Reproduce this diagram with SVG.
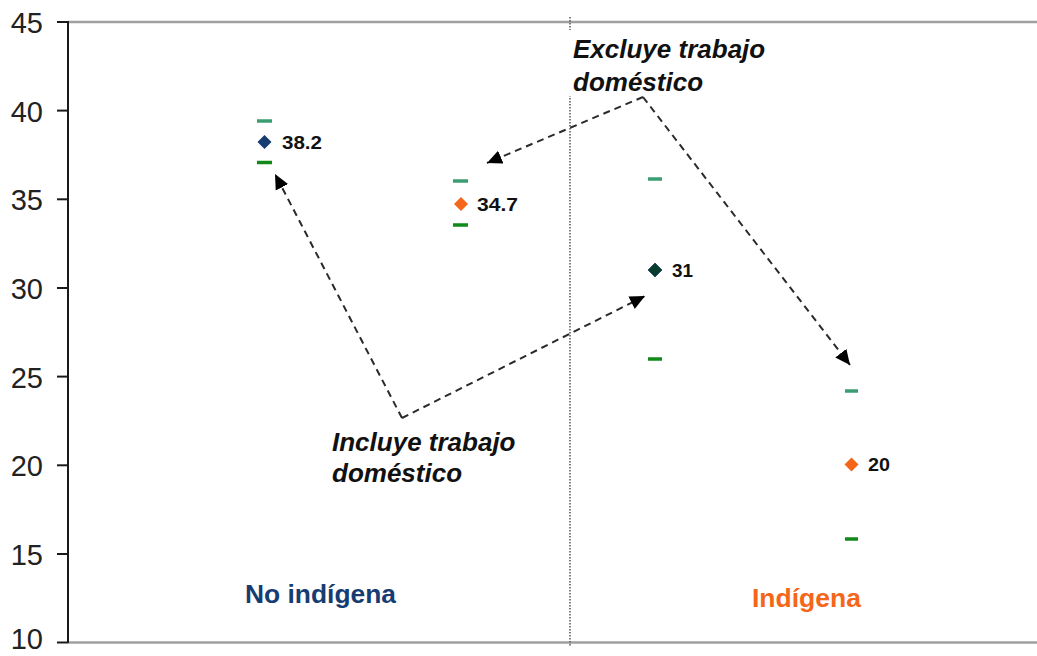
<svg xmlns="http://www.w3.org/2000/svg" width="1037" height="656" viewBox="0 0 1037 656">
<style>
.axis{stroke:#1a1a1a;stroke-width:2;fill:none}
.frame{stroke:#a0a0a0;stroke-width:2.5;fill:none}
.tick{font-family:"Liberation Sans",Arial,sans-serif;font-size:29px;fill:#222;text-anchor:end}
.hi{stroke:#3a9e72;stroke-width:3.5}
.lo{stroke:#118a1a;stroke-width:3.5}
.val{font-family:"Liberation Sans",Arial,sans-serif;font-size:19px;font-weight:bold;fill:#111}
.note{font-family:"Liberation Sans",Arial,sans-serif;font-size:26px;font-weight:bold;font-style:italic;fill:#111}
.cat{font-family:"Liberation Sans",Arial,sans-serif;font-size:26px;font-weight:bold}
.conn{stroke:#2a2a2a;stroke-width:2;stroke-dasharray:7 5;fill:none;marker-end:url(#ah)}
</style>
<defs>
<marker id="ah" markerUnits="userSpaceOnUse" markerWidth="16" markerHeight="15" refX="15" refY="7" orient="auto" viewBox="0 0 16 14">
<path d="M0,0 L15,7 L0,14 Z" fill="#000"/>
</marker>
<path id="dia" d="M0,-7 L7,0 L0,7 L-7,0 Z"/>
</defs>
<rect width="1037" height="656" fill="#fff"/>
<g id="axes">
<line class="frame" x1="68" y1="22" x2="1037" y2="22"/>
<line class="frame" x1="68" y1="642.5" x2="1037" y2="642.5"/>
<line x1="570" y1="17" x2="570" y2="646" stroke="#555" stroke-width="1.5" stroke-dasharray="1.5 1.5"/>
<line class="axis" x1="68" y1="21" x2="68" y2="643"/>
<g class="axis">
<line x1="57" y1="22" x2="68" y2="22"/>
<line x1="57" y1="110.6" x2="68" y2="110.6"/>
<line x1="57" y1="199.3" x2="68" y2="199.3"/>
<line x1="57" y1="288" x2="68" y2="288"/>
<line x1="57" y1="376.6" x2="68" y2="376.6"/>
<line x1="57" y1="465.3" x2="68" y2="465.3"/>
<line x1="57" y1="554" x2="68" y2="554"/>
<line x1="57" y1="642.5" x2="68" y2="642.5"/>
</g>
<text class="tick" x="43" y="33">45</text>
<text class="tick" x="43" y="121.6">40</text>
<text class="tick" x="43" y="210.3">35</text>
<text class="tick" x="43" y="299">30</text>
<text class="tick" x="43" y="387.6">25</text>
<text class="tick" x="43" y="476.3">20</text>
<text class="tick" x="43" y="565">15</text>
<text class="tick" x="43" y="649">10</text>
</g>
<g id="p-noind-incl">
<line class="hi" x1="257" y1="121" x2="272" y2="121"/>
<line class="lo" x1="257" y1="162.5" x2="272" y2="162.5"/>
<use href="#dia" x="264.5" y="142" fill="#173c72"/>
<text class="val" x="282" y="149" textLength="40" lengthAdjust="spacingAndGlyphs">38.2</text>
</g>
<g id="p-noind-excl">
<line class="hi" x1="453" y1="181" x2="468" y2="181"/>
<line class="lo" x1="453" y1="225" x2="468" y2="225"/>
<use href="#dia" x="461" y="204" fill="#f5661a"/>
<text class="val" x="477" y="211" textLength="41" lengthAdjust="spacingAndGlyphs">34.7</text>
</g>
<g id="p-ind-incl">
<line class="hi" x1="648" y1="179" x2="662" y2="179"/>
<line class="lo" x1="648" y1="359" x2="662" y2="359"/>
<use href="#dia" x="655" y="270" fill="#083d2c" stroke="#1d3e6a" stroke-width="0.8"/>
<text class="val" x="672" y="277" textLength="21" lengthAdjust="spacingAndGlyphs">31</text>
</g>
<g id="p-ind-excl">
<line class="hi" x1="845" y1="391" x2="858" y2="391"/>
<line class="lo" x1="845" y1="539" x2="858" y2="539"/>
<use href="#dia" x="851.5" y="464.5" fill="#f5661a"/>
<text class="val" x="868" y="471" textLength="22" lengthAdjust="spacingAndGlyphs">20</text>
</g>
<g id="connectors">
<line class="conn" x1="643" y1="97" x2="487" y2="163"/>
<line class="conn" x1="643" y1="97" x2="850" y2="365"/>
<line class="conn" x1="402" y1="418" x2="275" y2="174"/>
<line class="conn" x1="402" y1="418" x2="645" y2="296"/>
</g>
<g id="note-excluye">
<rect x="565" y="30" width="205" height="66" fill="#fff"/>
<text class="note" x="573" y="58">Excluye trabajo</text>
<text class="note" x="573" y="91">doméstico</text>
</g>
<g id="note-incluye">
<text class="note" x="332" y="451">Incluye trabajo</text>
<text class="note" x="332" y="482">doméstico</text>
</g>
<g id="cat-noind">
<text class="cat" x="245" y="603" fill="#173c72" textLength="151" lengthAdjust="spacingAndGlyphs">No indígena</text>
</g>
<g id="cat-ind">
<text class="cat" x="752" y="607" fill="#f5661a" textLength="109" lengthAdjust="spacingAndGlyphs">Indígena</text>
</g>
</svg>
